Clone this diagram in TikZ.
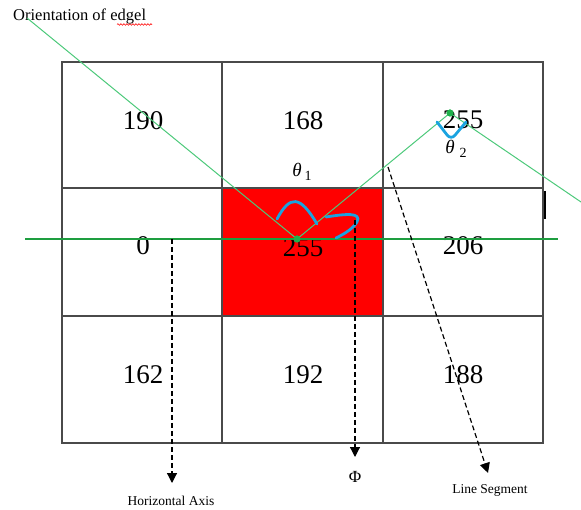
\documentclass[tikz,border=0pt]{standalone}
\usepackage{fontspec}
\setmainfont{Liberation Serif}
\usetikzlibrary{arrows.meta,decorations.pathmorphing}
\definecolor{gridc}{HTML}{4A4A4A}
\definecolor{gline}{HTML}{1E9E40}
\definecolor{gdiag}{HTML}{4CC97A}
\definecolor{gdot}{HTML}{1DB14B}
\definecolor{arcblue}{HTML}{1AA3E0}
\definecolor{cellred}{HTML}{FF0000}
\begin{document}
\begin{tikzpicture}[x=1pt,y=-1pt,
  gridline/.style={draw=gridc,line width=1.6pt},
  num/.style={font=\fontsize{27}{29}\selectfont,inner sep=0pt},
  lbl/.style={font=\fontsize{13.5}{15}\selectfont,inner sep=0pt},
  diag/.style={draw=gdiag,line width=1pt},
  anglearc/.style={draw=arcblue,line width=2.8pt,line cap=round},
  darrow/.style={draw=black,line width=1.2pt,dash pattern=on 5pt off 3pt,-{Triangle[width=10pt,length=10pt]}},
  gdotstyle/.style={circle,fill=gdot,inner sep=0pt,minimum size=7pt}]
\useasboundingbox (0,0) rectangle (581,510);
% red cell
\fill[cellred] (222,188) rectangle (383,316);
% grid
\draw[gridline] (62,62) rectangle (543,443);
\draw[gridline] (222,62)--(222,443) (383,62)--(383,443) (62,188)--(543,188) (62,316)--(543,316);
% numbers
\node[num] (n11) at (143,121) {190};
\node[num] (n12) at (303,121) {168};
\node[num] (n13) at (463,120) {255};
\node[num] (n21) at (143,246) {0};
\node[num] (n22) at (303,248) {255};
\node[num] (n23) at (463,246) {206};
\node[num] (n31) at (143,375) {162};
\node[num] (n32) at (303,375) {192};
\node[num] (n33) at (463,375) {188};
% title
\node[font=\fontsize{16.5}{18}\selectfont,inner sep=0pt,anchor=west] (title) at (13,16) {Orientation of edgel};
\draw[red,line width=0.6pt,decorate,decoration={snake,amplitude=0.8pt,segment length=3pt}] (117,24.5) -- (152,24.5);
% points
\coordinate (start) at (27,18);
\node[gdotstyle] (p1) at (297,239) {};
\node[gdotstyle] (p2) at (450,113) {};
\coordinate (end) at (581,202);
\coordinate (hl) at (25,239);
\coordinate (hr) at (558,239);
% green lines
\draw[draw=gline,line width=1.5pt] (hl) -- (hr);
\draw[diag] (start) -- (p1.center) -- (p2.center) -- (end);
\node[gdotstyle] at (297,239) {};
\node[gdotstyle] at (450,113) {};
% angle arcs
\draw[anglearc] (277,219) .. controls (290,195) and (300,195) .. (317,224);
\draw[anglearc] (326,217) .. controls (345,214) and (362,212) .. (357,222) .. controls (352,230) and (342,235) .. (336,238);
\draw[anglearc,rounded corners=6pt] (437,122) -- (451,140) -- (466,122);
% theta labels
\node[font=\fontsize{19}{21}\selectfont\itshape,inner sep=0pt] (th1) at (297,170) {θ};
\node[font=\fontsize{14}{16}\selectfont,inner sep=0pt] (th1s) at (308,176) {1};
\node[font=\fontsize{19}{21}\selectfont\itshape,inner sep=0pt] (th2) at (450,147) {θ};
\node[font=\fontsize{14}{16}\selectfont,inner sep=0pt] (th2s) at (463,153) {2};
% black bar
\draw[black,line width=2.5pt] (545,191) -- (545,219);
% dashed arrows
\coordinate (a1s) at (172,239);
\coordinate (a1e) at (172,483);
\coordinate (a2s) at (355,220);
\coordinate (a2e) at (355,457);
\coordinate (a3s) at (388,167);
\coordinate (a3e) at (488,473);
\draw[darrow] (a1s) -- (a1e);
\draw[darrow] (a2s) -- (a2e);
\draw[darrow] (a3s) -- (a3e);
% bottom labels
\node[lbl] (hax) at (171,501) {Horizontal Axis};
\node[font=\fontsize{17}{19}\selectfont,inner sep=0pt] (phi) at (355,477) {Φ};
\node[lbl] (lseg) at (490,490) {Line Segment};
\end{tikzpicture}
\end{document}
